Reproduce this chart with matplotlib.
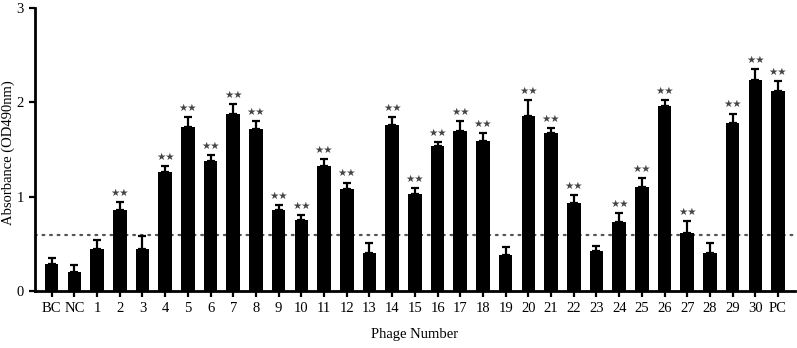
import matplotlib
matplotlib.use("Agg")
import matplotlib.pyplot as plt
import numpy as np

labels = ["BC", "NC"] + [str(i) for i in range(1, 31)] + ["PC"]
values = [0.29, 0.20, 0.45, 0.86, 0.45, 1.26, 1.74, 1.38, 1.88, 1.72,
          0.86, 0.75, 1.32, 1.08, 0.41, 1.76, 1.03, 1.54, 1.70, 1.59,
          0.38, 1.85, 1.67, 0.93, 0.43, 0.73, 1.10, 1.96, 0.62, 0.41,
          1.78, 2.24, 2.12]
errors = [0.06, 0.08, 0.09, 0.08, 0.13, 0.06, 0.10, 0.06, 0.10, 0.08,
          0.05, 0.06, 0.08, 0.07, 0.10, 0.08, 0.06, 0.04, 0.10, 0.08,
          0.09, 0.17, 0.06, 0.09, 0.05, 0.10, 0.10, 0.06, 0.12, 0.10,
          0.10, 0.11, 0.10]
signif = [False, False, False, True, False, True, True, True, True, True,
          True, True, True, True, False, True, True, True, True, True,
          False, True, True, True, False, True, True, True, True, False,
          True, True, True]
cutoff = 0.6

plt.rcParams["font.family"] = ["Liberation Serif", "DejaVu Sans"]

fig = plt.figure(figsize=(7.97, 3.48), dpi=100)
ax = fig.add_axes([0.044, 0.163, 0.953, 0.815])

x = np.arange(len(labels))
ax.axhline(cutoff, color="#555555", linestyle=(0, (0.8, 2.6)), linewidth=1.6,
           dash_capstyle="round", zorder=1)
ax.bar(x, values, width=0.6, color="black", zorder=2)
ax.errorbar(x, values, yerr=[np.zeros(len(values)), errors], fmt="none",
            ecolor="black", elinewidth=1.6, capsize=2.8, capthick=1.6, zorder=3)

for i in range(len(labels)):
    if signif[i]:
        ax.annotate("★★", (x[i], values[i] + errors[i]), xytext=(0, 3),
                    textcoords="offset points", ha="center", va="bottom",
                    fontsize=7.5, color="#444444", family="DejaVu Sans")

ax.set_xlim(-0.73, len(labels) - 1 + 0.73)
ax.set_ylim(0, 3)
ax.set_yticks([0, 1, 2, 3])
ax.set_xticks(x)
ax.set_xticklabels(labels)
ax.tick_params(axis="both", direction="out", length=4, width=1.6, labelsize=10.5)
ax.tick_params(axis="y", pad=4)
ax.spines["top"].set_visible(False)
ax.spines["right"].set_visible(False)
ax.spines["left"].set_linewidth(2)
ax.spines["bottom"].set_linewidth(2)
ax.set_ylabel("Absorbance (OD490nm)", fontsize=10.5, va="center")
ax.yaxis.set_label_coords(-0.035, 0.49)
ax.set_xlabel("Phage Number", fontsize=10.5, va="center")
ax.xaxis.set_label_coords(0.5, -0.151)

fig.savefig("out.png", dpi=100)
